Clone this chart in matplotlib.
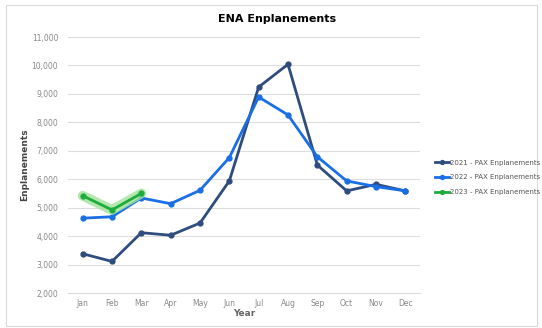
import matplotlib.pyplot as plt
from matplotlib.patches import Rectangle
from matplotlib.ticker import FuncFormatter

months = ["Jan", "Feb", "Mar", "Apr", "May", "Jun",
          "Jul", "Aug", "Sep", "Oct", "Nov", "Dec"]
pax_2021 = [3380, 3110, 4120, 4030, 4460, 5940, 9240, 10040, 6500, 5590, 5820, 5590]
pax_2022 = [4630, 4680, 5340, 5140, 5610, 6760, 8890, 8260, 6790, 5940, 5740, 5590]
pax_2023 = [5420, 4920, 5500]
series_labels = ["2021 - PAX Enplanements", "2022 - PAX Enplanements", "2023 - PAX Enplanements"]
y_ticks = [2000, 3000, 4000, 5000, 6000, 7000, 8000, 9000, 10000, 11000]

c2021 = "#2F4C7E"
c2022 = "#1A6FE6"
c2023 = "#1EAD3C"

fig = plt.figure(figsize=(5.42, 3.28), dpi=100)
fig.patch.set_facecolor("white")
# outer frame
fig.patches.append(Rectangle((6 / 542, 2 / 328), 531 / 542, 321 / 328,
                             transform=fig.transFigure, fill=False,
                             edgecolor="#D9D9D9", linewidth=0.8))

ax = fig.add_axes([68 / 542, 35 / 328, 352 / 542, 256 / 328])
x = list(range(len(months)))
x23 = x[:len(pax_2023)]

ax.plot(x, pax_2021, color=c2021, lw=2.0, marker="o", ms=3.5, label=series_labels[0], zorder=3)
ax.plot(x, pax_2022, color=c2022, lw=2.0, marker="o", ms=3.5, label=series_labels[1], zorder=4)
# soft highlight under the 2023 line
ax.plot(x23, pax_2023, color="#9FE39A", lw=7, alpha=0.8, solid_capstyle="round",
        solid_joinstyle="round", zorder=4.5)
ax.plot(x23, pax_2023, color=c2023, lw=2.0, marker="o", ms=3.5,
        label=series_labels[2], zorder=5)

ax.set_xlim(-0.5, 11.5)
ax.set_ylim(2000, 11000)
ax.set_yticks(y_ticks)
ax.yaxis.set_major_formatter(FuncFormatter(lambda v, p: f"{int(v):,}"))
ax.set_xticks(x)
ax.set_xticklabels(months)
ax.grid(axis="y", color="#DDDDDD", lw=0.8)
ax.set_axisbelow(True)
for s in ["top", "right", "left"]:
    ax.spines[s].set_visible(False)
ax.spines["bottom"].set_color("#DDDDDD")
ax.tick_params(axis="both", length=0, labelsize=5.5, labelcolor="#888888")
ax.tick_params(axis="x", pad=4)
ax.tick_params(axis="y", pad=7)

ax.set_xlabel("Year", fontsize=6.5, fontweight="bold", color="#666666", labelpad=1)
ax.set_ylabel("Enplanements", fontsize=6.5, fontweight="bold", color="#444444", labelpad=2)

fig.text(277 / 542, 1 - 19 / 328, "ENA Enplanements", ha="center", va="center",
         fontsize=8, fontweight="bold", color="black")

leg = fig.legend(loc="upper left", bbox_to_anchor=(432 / 542, 1 - 157 / 328),
                 frameon=False, fontsize=5, handlelength=2.0, handletextpad=0.2,
                 labelspacing=1.25, borderaxespad=0, markerscale=0.8)
for t in leg.get_texts():
    t.set_color("#555555")

fig.savefig("out.png", dpi=100, facecolor="white")
